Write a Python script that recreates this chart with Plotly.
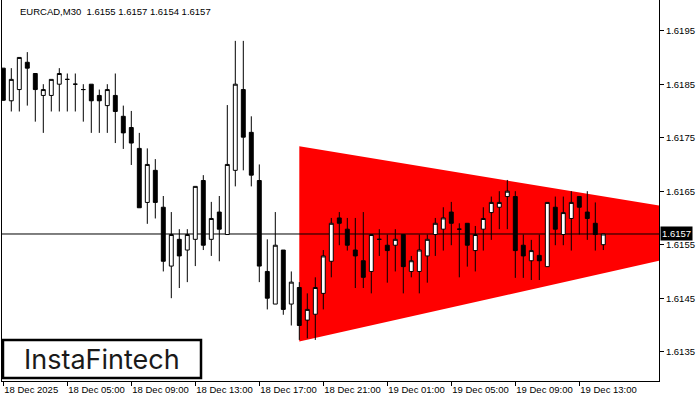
import pandas as pd
import plotly.graph_objects as go

symbol_title = "EURCAD,M30\u00a0\u00a01.6155 1.6157 1.6154 1.6157"
bar_start = "2025-12-18 01:00"
bar_minutes = 30

opens = [1.61880, 1.61819, 1.61840, 1.61891, 1.61870, 1.61829, 1.61829, 1.61850, 1.61859, 1.61850,
         1.61840, 1.61850, 1.61829, 1.61810, 1.61829, 1.61790, 1.61769, 1.61730, 1.61629, 1.61689,
         1.61620, 1.61510, 1.61560, 1.61540, 1.61560, 1.61670, 1.61560, 1.61611, 1.61569, 1.61689,
         1.61840, 1.61760, 1.61670, 1.61500, 1.61439, 1.61540, 1.61439, 1.61470, 1.61409, 1.61420,
         1.61459, 1.61519, 1.61600, 1.61579, 1.61540, 1.61520, 1.61500, 1.61560, 1.61549, 1.61549,
         1.61569, 1.61500, 1.61500, 1.61529, 1.61569, 1.61579, 1.61611, 1.61579, 1.61590, 1.61539,
         1.61579, 1.61610, 1.61620, 1.61640, 1.61640, 1.61549, 1.61520, 1.61530, 1.61509, 1.61620,
         1.61569, 1.61599, 1.61640, 1.61611, 1.61590, 1.61550]
highs = [1.61880, 1.61880, 1.61900, 1.61910, 1.61870, 1.61850, 1.61859, 1.61880, 1.61870, 1.61870,
         1.61850, 1.61850, 1.61840, 1.61850, 1.61870, 1.61810, 1.61800, 1.61759, 1.61730, 1.61710,
         1.61641, 1.61611, 1.61579, 1.61579, 1.61659, 1.61680, 1.61630, 1.61641, 1.61811, 1.61931,
         1.61931, 1.61790, 1.61700, 1.61560, 1.61611, 1.61540, 1.61500, 1.61480, 1.61459, 1.61489,
         1.61540, 1.61600, 1.61611, 1.61600, 1.61600, 1.61611, 1.61569, 1.61579, 1.61569, 1.61579,
         1.61569, 1.61529, 1.61569, 1.61569, 1.61600, 1.61620, 1.61630, 1.61590, 1.61590, 1.61585,
         1.61620, 1.61640, 1.61650, 1.61671, 1.61650, 1.61569, 1.61559, 1.61569, 1.61629, 1.61640,
         1.61640, 1.61650, 1.61640, 1.61650, 1.61629, 1.61570]
lows = [1.61819, 1.61799, 1.61799, 1.61810, 1.61780, 1.61759, 1.61799, 1.61799, 1.61799, 1.61799,
        1.61780, 1.61759, 1.61759, 1.61759, 1.61740, 1.61729, 1.61699, 1.61619, 1.61589, 1.61599,
        1.61500, 1.61450, 1.61469, 1.61480, 1.61510, 1.61540, 1.61529, 1.61519, 1.61569, 1.61659,
        1.61689, 1.61659, 1.61480, 1.61429, 1.61439, 1.61419, 1.61399, 1.61372, 1.61375, 1.61372,
        1.61429, 1.61489, 1.61549, 1.61539, 1.61469, 1.61469, 1.61459, 1.61529, 1.61479, 1.61500,
        1.61459, 1.61489, 1.61459, 1.61479, 1.61529, 1.61539, 1.61549, 1.61489, 1.61509, 1.61500,
        1.61539, 1.61559, 1.61579, 1.61579, 1.61488, 1.61488, 1.61484, 1.61484, 1.61509, 1.61549,
        1.61549, 1.61539, 1.61569, 1.61559, 1.61539, 1.61540]
closes = [1.61820, 1.61859, 1.61900, 1.61880, 1.61840, 1.61840, 1.61859, 1.61870, 1.61859, 1.61850,
          1.61840, 1.61819, 1.61819, 1.61840, 1.61799, 1.61759, 1.61740, 1.61619, 1.61700, 1.61629,
          1.61519, 1.61569, 1.61529, 1.61569, 1.61659, 1.61549, 1.61599, 1.61579, 1.61700, 1.61850,
          1.61751, 1.61680, 1.61510, 1.61450, 1.61549, 1.61429, 1.61480, 1.61399, 1.61429, 1.61470,
          1.61529, 1.61590, 1.61590, 1.61549, 1.61529, 1.61489, 1.61569, 1.61560, 1.61539, 1.61560,
          1.61509, 1.61520, 1.61540, 1.61560, 1.61590, 1.61600, 1.61590, 1.61579, 1.61549, 1.61569,
          1.61599, 1.61629, 1.61629, 1.61650, 1.61539, 1.61529, 1.61539, 1.61520, 1.61629, 1.61579,
          1.61610, 1.61629, 1.61620, 1.61599, 1.61569, 1.61570]

current_price = 1.6157

# symmetrical triangle pattern (start / end times and boundary prices)
tri_times = ["2025-12-18 19:30", "2025-12-19 18:00"]
tri_upper = [1.61734, 1.61623]
tri_lower = [1.61369, 1.61520]

tick_times = ["2025-12-18 01:00", "2025-12-18 05:00", "2025-12-18 09:00", "2025-12-18 13:00",
              "2025-12-18 17:00", "2025-12-18 21:00", "2025-12-19 01:00", "2025-12-19 05:00",
              "2025-12-19 09:00", "2025-12-19 13:00"]
tick_labels = ["18 Dec 2025", "18 Dec 05:00", "18 Dec 09:00", "18 Dec 13:00", "18 Dec 17:00",
               "18 Dec 21:00", "19 Dec 01:00", "19 Dec 05:00", "19 Dec 09:00", "19 Dec 13:00"]
y_ticks = [1.6135, 1.6145, 1.6155, 1.6165, 1.6175, 1.6185, 1.6195]

x_range = ["2025-12-18 00:55:07.5", "2025-12-19 17:58:52.5"]
y_range = [1.612952, 1.620074]

times = pd.date_range(bar_start, periods=len(opens), freq=f"{bar_minutes}min")


def p(t, v):
    return f"{t.replace(' ', '_')},{v}"


tri_path = (f"M {p(tri_times[0], tri_upper[0])} L {p(tri_times[1], tri_upper[1])} "
            f"L {p(tri_times[1], tri_lower[1])} L {p(tri_times[0], tri_lower[0])} Z")

fig = go.Figure()

fig.add_trace(go.Candlestick(
    x=times, open=opens, high=highs, low=lows, close=closes,
    increasing=dict(line=dict(color="black", width=1), fillcolor="white"),
    decreasing=dict(line=dict(color="black", width=1), fillcolor="black"),
    whiskerwidth=0, showlegend=False, hoverinfo="skip"))

# triangle (below the candles)
fig.add_shape(type="path", xref="x", yref="y", path=tri_path,
              fillcolor="#ff0000", line=dict(width=0), layer="below")
# current price line (above triangle, below candles)
fig.add_shape(type="line", xref="x", yref="y", x0=x_range[0], x1=x_range[1],
              y0=current_price, y1=current_price,
              line=dict(color="black", width=1), layer="below")

fig.update_layout(
    width=700, height=400,
    margin=dict(l=2, r=41, t=0, b=19, autoexpand=False),
    paper_bgcolor="white", plot_bgcolor="white",
    font=dict(family="Liberation Sans", size=9.5, color="black"),
    showlegend=False,
    xaxis=dict(
        type="date", range=x_range, rangeslider=dict(visible=False), automargin=False,
        tickvals=tick_times, ticktext=tick_labels, ticklabelposition="outside right",
        tickangle=0, ticks="outside", ticklen=4, tickcolor="black", tickwidth=1,
        showgrid=False, zeroline=False, showline=True, linecolor="black", linewidth=1,
        tickfont=dict(family="Liberation Sans", size=9.5, color="black"),
    ),
    yaxis=dict(
        side="right", range=y_range, tickvals=y_ticks, tickformat=".4f", automargin=False,
        ticks="outside", ticklen=4, tickcolor="black", tickwidth=1,
        showgrid=False, zeroline=False, showline=True, mirror=True,
        linecolor="black", linewidth=1,
        tickfont=dict(family="Liberation Sans", size=9.5, color="black"),
    ),
)

# symbol title
fig.add_annotation(text=symbol_title, xref="paper", yref="paper", x=0.0244, y=0.971,
                   xanchor="left", yanchor="middle", showarrow=False,
                   font=dict(family="Liberation Sans", size=9.5, color="black"))

# current price label on axis
fig.add_annotation(text=f"{current_price:.4f}", xref="paper", yref="y", x=1.0, y=current_price,
                   xanchor="left", yanchor="middle", showarrow=False, xshift=1,
                   bgcolor="black", borderpad=1,
                   font=dict(family="Liberation Sans", size=9.5, color="white"))

# logo box
fig.add_shape(type="rect", xref="paper", yref="paper", x0=0.0015, x1=0.3029, y0=0.0079, y1=0.1076,
              line=dict(color="black", width=2.5), fillcolor="white", layer="above")
fig.add_annotation(text="InstaFintech", xref="paper", yref="paper", x=0.1522, y=0.0577,
                   xanchor="center", yanchor="middle", showarrow=False,
                   font=dict(family="Inter", size=27, color="#1a1a1a"))

fig.write_html("out.html", config={"displayModeBar": False},
               post_script="document.body.style.margin='0';")
